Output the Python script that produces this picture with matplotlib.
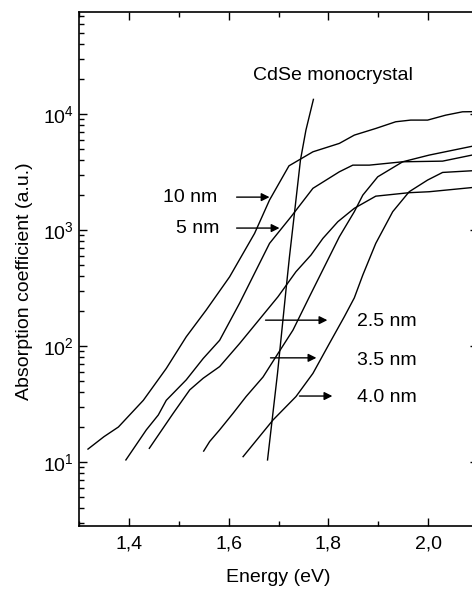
import numpy as np
import matplotlib
matplotlib.use("Agg")
import matplotlib.pyplot as plt
from matplotlib.ticker import FixedLocator, FuncFormatter, LogLocator, NullFormatter

plt.rcParams['font.family'] = ['Liberation Sans', 'DejaVu Sans']
plt.rcParams['mathtext.fontset'] = 'custom'
plt.rcParams['mathtext.rm'] = 'Liberation Sans'
plt.rcParams['mathtext.it'] = 'Liberation Sans:italic'

# absorption spectra
x_10nm = [1.318, 1.350, 1.379, 1.429, 1.475, 1.515, 1.555, 1.602, 1.652, 1.682, 1.721,
          1.769, 1.822, 1.852, 1.895, 1.935, 1.965, 1.999, 2.035, 2.069, 2.090]
y_10nm = [12.9, 16.5, 20, 34, 64, 120, 204, 395, 935, 1815, 3580,
          4730, 5590, 6590, 7520, 8590, 8880, 8880, 9790, 10470, 10500]

x_5nm = [1.394, 1.435, 1.459, 1.475, 1.515, 1.549, 1.582, 1.622, 1.682, 1.725,
         1.769, 1.822, 1.849, 1.882, 1.949, 2.029, 2.090]
y_5nm = [10.4, 18.9, 25.4, 34, 51, 78, 112, 234, 767, 1300,
         2290, 3180, 3630, 3630, 3880, 3930, 4450]

x_c3 = [1.441, 1.489, 1.522, 1.549, 1.582, 1.622, 1.699, 1.735, 1.765, 1.789,
        1.819, 1.852, 1.895, 1.962, 2.002, 2.090]
y_c3 = [13.1, 26.3, 41.8, 52.7, 66.4, 105, 266, 437, 608, 847,
        1180, 1540, 1960, 2100, 2140, 2330]

x_c4 = [1.550, 1.562, 1.582, 1.609, 1.635, 1.669, 1.695, 1.729, 1.762, 1.822,
        1.852, 1.869, 1.899, 1.949, 2.002, 2.090]
y_c4 = [12.4, 15, 18.9, 26.3, 36.6, 54, 81, 137, 266, 875,
        1440, 2000, 2880, 3880, 4430, 5300]

x_c5 = [1.629, 1.689, 1.735, 1.769, 1.802, 1.832, 1.852, 1.869, 1.895, 1.929,
        1.962, 1.999, 2.029, 2.090]
y_c5 = [11.1, 23, 36.6, 58, 105, 179, 260, 409, 767, 1440,
        2140, 2700, 3140, 3250]

x_mono = [1.678, 1.698, 1.715, 1.722, 1.732, 1.744, 1.755, 1.770]
y_mono = [10.4, 58, 304, 589, 1400, 4010, 7280, 13400]

x_ticks = [1.4, 1.6, 1.8, 2.0]
x_ticklabels = ['1,4', '1,6', '1,8', '2,0']

fig = plt.figure(figsize=(4.72, 5.92), dpi=100)
# right spine sits just outside the picture, as in the scanned figure
ax = fig.add_axes([79 / 472, 66 / 592, 399 / 472, 514 / 592])

for xs, ys in [(x_10nm, y_10nm), (x_5nm, y_5nm), (x_c3, y_c3),
               (x_c4, y_c4), (x_c5, y_c5), (x_mono, y_mono)]:
    ax.plot(xs, ys, color='k', lw=1.0)

ax.set_yscale('log')
ax.set_xlim(1.3, 2.1)
ax.set_ylim(2.8, 7.6e4)

ax.xaxis.set_major_locator(FixedLocator(x_ticks))
ax.set_xticklabels(x_ticklabels)
ax.xaxis.set_minor_locator(FixedLocator([1.3, 1.5, 1.7, 1.9, 2.1]))
ax.yaxis.set_major_locator(LogLocator(base=10))
ax.yaxis.set_major_formatter(FuncFormatter(lambda v, p: r'$\mathregular{10^{%d}}$' % round(np.log10(v))))
ax.yaxis.set_minor_locator(LogLocator(base=10, subs=np.arange(2, 10)))
ax.yaxis.set_minor_formatter(NullFormatter())

ax.tick_params(which='both', direction='in', top=True, right=True, width=1.0, labelsize=14)
ax.tick_params(which='major', length=6)
ax.tick_params(which='minor', length=3.5)
ax.tick_params(axis='x', which='major', pad=7)
for s in ax.spines.values():
    s.set_linewidth(1.2)

ax.set_xlabel('Energy (eV)', fontsize=14, labelpad=12)
ax.set_ylabel('Absorption coefficient (a.u.)', fontsize=14)
ax.yaxis.set_label_coords(-0.115, 0.477)

ax.text(1.648, 21700, 'CdSe monocrystal', fontsize=14, ha='left', va='center')

arrow = dict(arrowstyle='-|>', color='k', lw=1.0, mutation_scale=12, shrinkA=0, shrinkB=0)
ax.annotate('', xy=(1.682, 1923), xytext=(1.616, 1923), arrowprops=arrow)
ax.annotate('', xy=(1.702, 1040), xytext=(1.616, 1040), arrowprops=arrow)
ax.annotate('', xy=(1.798, 167), xytext=(1.674, 167), arrowprops=arrow)
ax.annotate('', xy=(1.776, 79), xytext=(1.684, 79), arrowprops=arrow)
ax.annotate('', xy=(1.808, 37), xytext=(1.742, 37), arrowprops=arrow)

ax.text(1.578, 1923, '10 nm', fontsize=14, ha='right', va='center')
ax.text(1.582, 1040, '5 nm', fontsize=14, ha='right', va='center')
ax.text(1.858, 161, '2.5 nm', fontsize=14, ha='left', va='center')
ax.text(1.858, 74.3, '3.5 nm', fontsize=14, ha='left', va='center')
ax.text(1.858, 35.6, '4.0 nm', fontsize=14, ha='left', va='center')

fig.savefig('out.png', dpi=100)
